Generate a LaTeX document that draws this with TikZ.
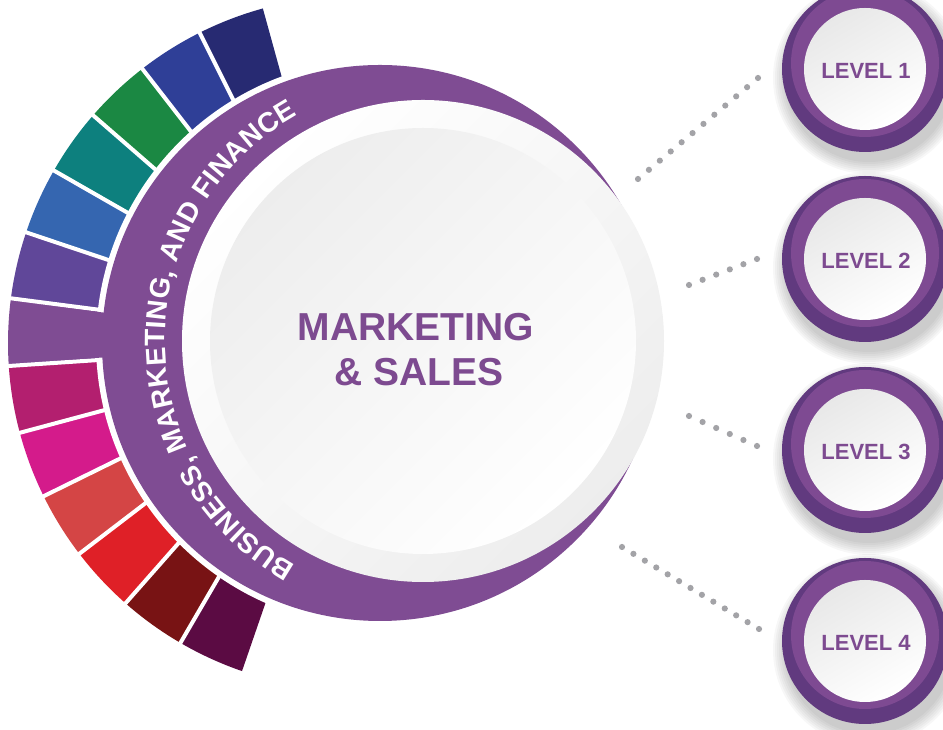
\documentclass[tikz,border=0pt]{standalone}
\usepackage{fontspec}
\setmainfont{Liberation Sans}
\usetikzlibrary{calc,decorations.text}

\definecolor{ringpurple}{HTML}{7F4C93}
\definecolor{textpurple}{HTML}{7D4A90}
\definecolor{lvdark}{HTML}{613A7F}
\definecolor{lvlight}{HTML}{7E4A92}
\definecolor{dotgray}{HTML}{A3A3A7}
\definecolor{segA}{HTML}{272A72}
\definecolor{segB}{HTML}{2F3F97}
\definecolor{segC}{HTML}{1B8843}
\definecolor{segD}{HTML}{0D807E}
\definecolor{segE}{HTML}{3566B0}
\definecolor{segF}{HTML}{604799}
\definecolor{segG}{HTML}{7F4C93}
\definecolor{segH}{HTML}{B31F6F}
\definecolor{segI}{HTML}{D41B8B}
\definecolor{segJ}{HTML}{D44545}
\definecolor{segK}{HTML}{DF2027}
\definecolor{segL}{HTML}{781314}
\definecolor{segM}{HTML}{5B0B43}

% font for the lettering on the ring
\newcommand\ringletters{\fontsize{28}{32}\selectfont\bfseries\color{white}}

\tikzset{
  centertext/.style={text=textpurple, font=\bfseries\fontsize{39}{45}\selectfont, inner sep=0pt},
  lvdisc/.style={circle, minimum size=122pt, inner sep=0pt, top color=black!9, bottom color=white, shading angle=30},
  lvtext/.style={text=textpurple, font=\bfseries\fontsize{22}{26}\selectfont, inner sep=0pt},
  dotc/.style={fill=dotgray},
  sepline/.style={white, line width=4pt}
}

\begin{document}
\begin{tikzpicture}[x=1pt,y=1pt]
\useasboundingbox (0,0) rectangle (943,730);

% centres of the colour band, the purple ring and the white dial
\coordinate (S) at (355,387);
\coordinate (P) at (380,387);
\coordinate (W) at (423,389);

% colour band: thirteen slices
\foreach \col [count=\i from 0] in {segA,segB,segC,segD,segE,segF,segG,segH,segI,segJ,segK,segL,segM} {
  \pgfmathsetmacro\a{105.4+11.2*\i}
  \pgfmathsetmacro\b{\a+11.2}
  \fill[\col] (S) -- +(\a:347pt) arc[start angle=\a, end angle=\b, radius=347pt] -- cycle;
}
\foreach \i in {1,...,12} {
  \pgfmathsetmacro\a{105.4+11.2*\i}
  \draw[sepline] (S) -- +(\a:360pt);
}
% white gap between band and ring
\fill[white] (P) circle[radius=284pt];
% the purple slice runs straight into the ring
\fill[segG] (S) -- +(173.1:300pt) arc[start angle=173.1, end angle=183.3, radius=300pt] -- cycle;

% purple ring and white dial
\fill[ringpurple] (P) circle[radius=278pt];
\shade[top color=white, bottom color=black!7, shading angle=45] (W) circle[radius=241pt];
\shade[top color=black!7, bottom color=white, shading angle=45] (W) circle[radius=213pt];

% lettering along the ring
\path[decorate, decoration={text along path, text align={fit to path},
  text={|\ringletters|BUSINESS, MARKETING, AND FINANCE}}]
  (W) ++(240.5:258pt) arc[start angle=240.5, end angle=119, radius=258pt];

\node[centertext, anchor=base] (mk) at (416,389) {MARKETING};
\node[centertext, anchor=base] (ss) at (419,344) {\& SALES};

% level buttons
\foreach \n/\y in {1/661,2/471,3/280,4/89} {
  \coordinate (c\n) at (865,\y);
  \foreach \k in {1,...,7} {
    \pgfmathsetmacro\rr{82+2*\k}
    \fill[black, opacity=0.03] ($(c\n)+(4,-9)$) circle[radius=\rr pt];
  }
  \fill[lvdark] (c\n) circle[radius=83pt];
  \fill[lvlight] ($(c\n)+(0,6)$) circle[radius=74pt];
  \node[lvdisc] (lv\n) at (c\n) {};
  \node[lvtext] (lt\n) at ($(c\n)+(1,-2)$) {LEVEL \n};
}

% dotted connectors
\coordinate (d1a) at (638,551); \coordinate (d1b) at (758,652);
\coordinate (d2a) at (689,445); \coordinate (d2b) at (757,471);
\coordinate (d3a) at (689,314); \coordinate (d3b) at (757,284);
\coordinate (d4a) at (622,183); \coordinate (d4b) at (759,101);
\foreach \u/\v/\n in {d1a/d1b/11, d2a/d2b/5, d3a/d3b/5, d4a/d4b/12} {
  \foreach \t in {0,...,\n} {
    \fill[dotc] ($(\u)!\t/\n!(\v)$) circle[radius=3.1pt];
  }
}
\end{tikzpicture}
\end{document}
